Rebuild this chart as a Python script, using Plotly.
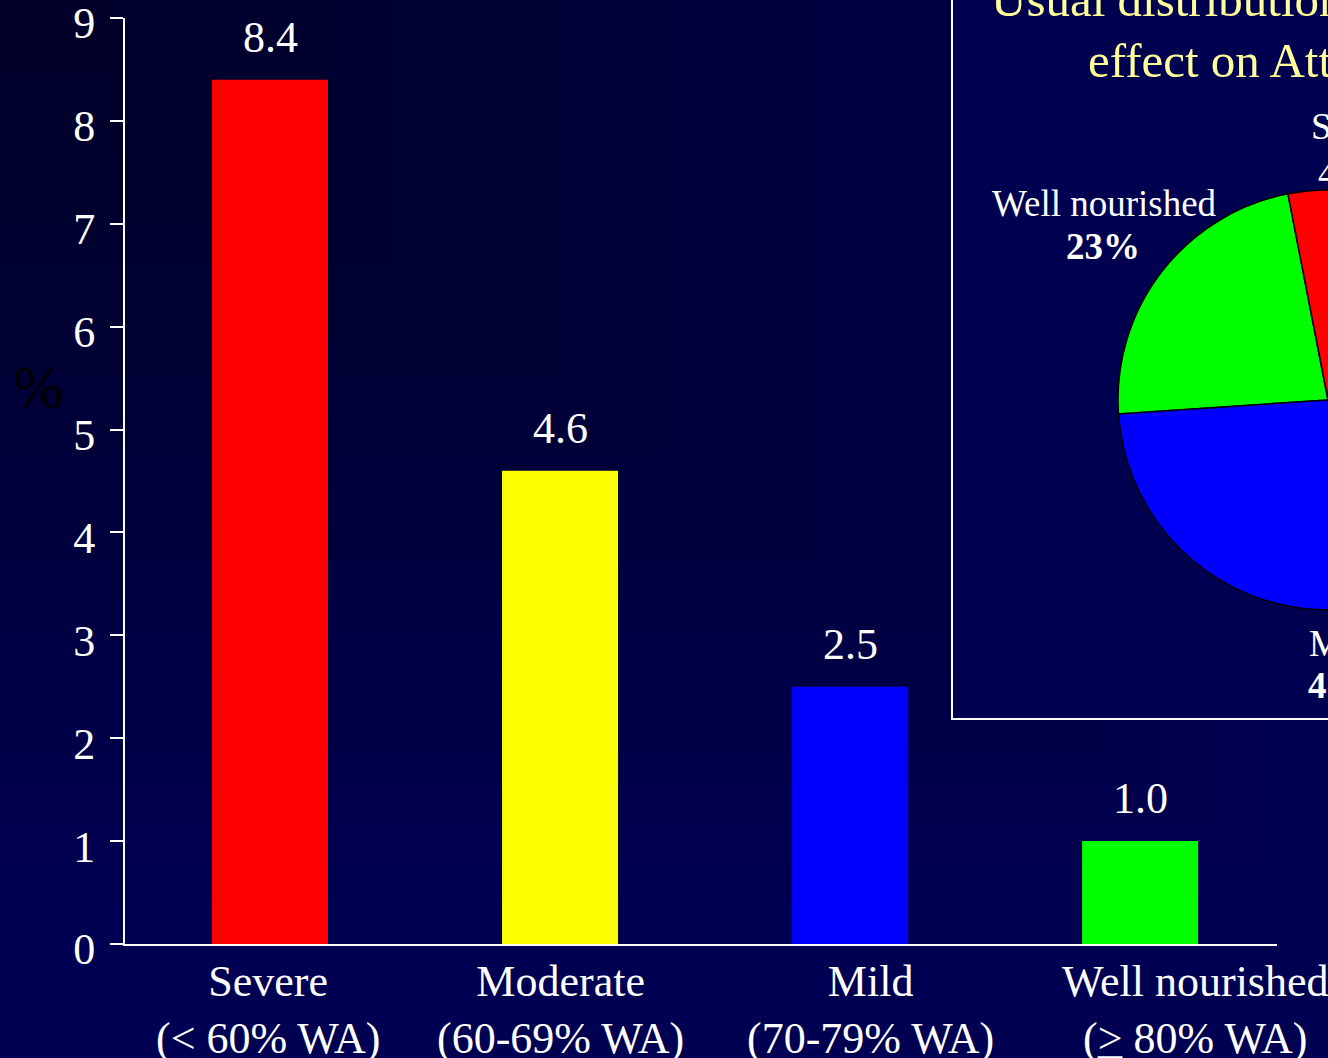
import plotly.graph_objects as go

# ---------------- data ----------------
categories = ["Severe", "Moderate", "Mild", "Well nourished"]
ranges = ["(&lt; 60% WA)", "(60-69% WA)", "(70-79% WA)", "(<u>&gt;</u> 80% WA)"]
mortality = [8.4, 4.6, 2.5, 1.0]
bar_colors = ["#FF0000", "#FFFF00", "#0000FF", "#00FF00"]
y_ticks = [0, 1, 2, 3, 4, 5, 6, 7, 8, 9]

pie_labels = ["Well nourished", "Severe", "Moderate", "Mild"]
pie_values = [23, 4, 32, 41]
pie_colors = ["#00FF00", "#FF0000", "#FFFF00", "#0000FF"]

title_lines = ["Usual distribution of malnutrition and its",
               "effect on Attributable mortality"]

# ---------------- layout geometry (pixels) ----------------
FW, FH = 1600, 1058          # figure drawn wider; page shows the left 1328 px
L, R, T, B = 125, 0, 18, 114
PW, PH = FW - L - R, FH - T - B
BG = "#000052"
INSET_BG = "#000050"
FONT = "Liberation Serif"


def px(x):
    return (x - L) / PW


def py(y):
    return (FH - B - y) / PH


fig = go.Figure()

fig.add_trace(go.Bar(
    x=categories, y=mortality, width=0.4,
    marker=dict(color=bar_colors, line=dict(width=0)),
    showlegend=False, hoverinfo="x+y",
))

fig.add_trace(go.Pie(
    labels=pie_labels, values=pie_values, sort=False,
    direction="clockwise", rotation=-93.8, automargin=False,
    marker=dict(colors=pie_colors, line=dict(color="black", width=1.5)),
    textinfo="none", showlegend=False,
    domain=dict(x=[px(1118), px(1538)], y=[py(610), py(190)]),
))

annotations = []
# value labels above bars
for c, v in zip(categories, mortality):
    annotations.append(dict(
        x=c, y=v, xref="x", yref="y", text=f"{v:.1f}", showarrow=False,
        yanchor="bottom", yshift=16, font=dict(family=FONT, size=44, color="white")))

# category labels under the axis
label_shift = [-2, 0, 20, 55]
for c, rng, s in zip(categories, ranges, label_shift):
    annotations.append(dict(
        x=c, y=0, xref="x", yref="y", text=f"{c}<br>{rng}", showarrow=False,
        yanchor="top", yshift=-11, xshift=s, align="center",
        font=dict(family=FONT, size=44, color="white")))

# y axis title
annotations.append(dict(
    x=px(38), y=py(387), xref="paper", yref="paper", text="%", showarrow=False,
    xanchor="center", yanchor="middle", font=dict(family=FONT, size=60, color="black")))

# inset title
annotations.append(dict(
    x=px(989), y=py(0), xref="paper", yref="paper", text=title_lines[0], showarrow=False,
    xanchor="left", yanchor="middle", font=dict(family=FONT, size=49, color="#FFFF99")))
annotations.append(dict(
    x=px(1086), y=py(60), xref="paper", yref="paper", text=title_lines[1], showarrow=False,
    xanchor="left", yanchor="middle", font=dict(family=FONT, size=49, color="#FFFF99")))

# pie labels: (x of name, top of name, x of pct, top of pct, anchor)
pie_label_pos = {"Well nourished": (1104, 181, 1103, 224, "center"),
                 "Severe": (1309, 104, 1316, 151, "left"),
                 "Mild": (1307, 621, 1306, 663, "left")}
for lab, val in zip(pie_labels, pie_values):
    if lab not in pie_label_pos:
        continue
    x1, y1, x2, y2, xa = pie_label_pos[lab]
    pct = f"{val}%" if lab == "Severe" else f"<b>{val}%</b>"
    annotations.append(dict(
        x=px(x1), y=py(y1), xref="paper", yref="paper", text=lab,
        showarrow=False, xanchor=xa, yanchor="top",
        font=dict(family=FONT, size=37, color="white")))
    annotations.append(dict(
        x=px(x2), y=py(y2), xref="paper", yref="paper", text=pct,
        showarrow=False, xanchor=xa, yanchor="top",
        font=dict(family=FONT, size=37, color="white")))

# soft darkening toward the top-left corner (slide background gradient)
shapes = []
N = 24
for k in range(N):
    f = 1 - k / N
    shapes.append(dict(type="rect", xref="paper", yref="paper", layer="below",
                       x0=px(-5), x1=px(1328 * f), y0=py(1058 * f * 0.85), y1=py(-5),
                       line=dict(width=0), fillcolor="rgba(0,0,0,0.019)"))
# inset frame
shapes.append(dict(type="rect", xref="paper", yref="paper",
                   x0=px(952), x1=px(1700), y0=py(719), y1=py(-30),
                   line=dict(color="white", width=2), fillcolor=INSET_BG, layer="below"))

fig.update_layout(
    width=FW, height=FH,
    margin=dict(l=L, r=R, t=T, b=B, pad=0, autoexpand=False),
    paper_bgcolor=BG, plot_bgcolor="rgba(0,0,0,0)",
    bargap=0.6,
    annotations=annotations,
    shapes=shapes,
    xaxis=dict(domain=[0, 1152 / PW], range=[-0.5, 3.472], showticklabels=False,
               ticks="", showgrid=False, zeroline=False, showline=True, automargin=False,
               linecolor="white", linewidth=2, fixedrange=True),
    yaxis=dict(range=[0, 9], tickvals=y_ticks, ticks="outside", ticklen=13,
               tickwidth=2, tickcolor="white", showline=True, linecolor="white",
               linewidth=2, showgrid=False, zeroline=False, ticklabelstandoff=6,
               ticklabelshift=5, ticklabeloverflow="allow", automargin=False,
               tickfont=dict(family=FONT, size=44, color="white"), fixedrange=True),
)

post = ("var gd=document.getElementById('{plot_id}');"
        "document.documentElement.style.margin='0';document.body.style.margin='0';"
        "document.body.style.overflow='hidden';document.body.style.background='" + BG + "';"
        "gd.parentElement.style.width='1328px';gd.parentElement.style.height='1058px';"
        "gd.parentElement.style.overflow='hidden';")

fig.write_html("out.html", post_script=post, config={"displayModeBar": False})
